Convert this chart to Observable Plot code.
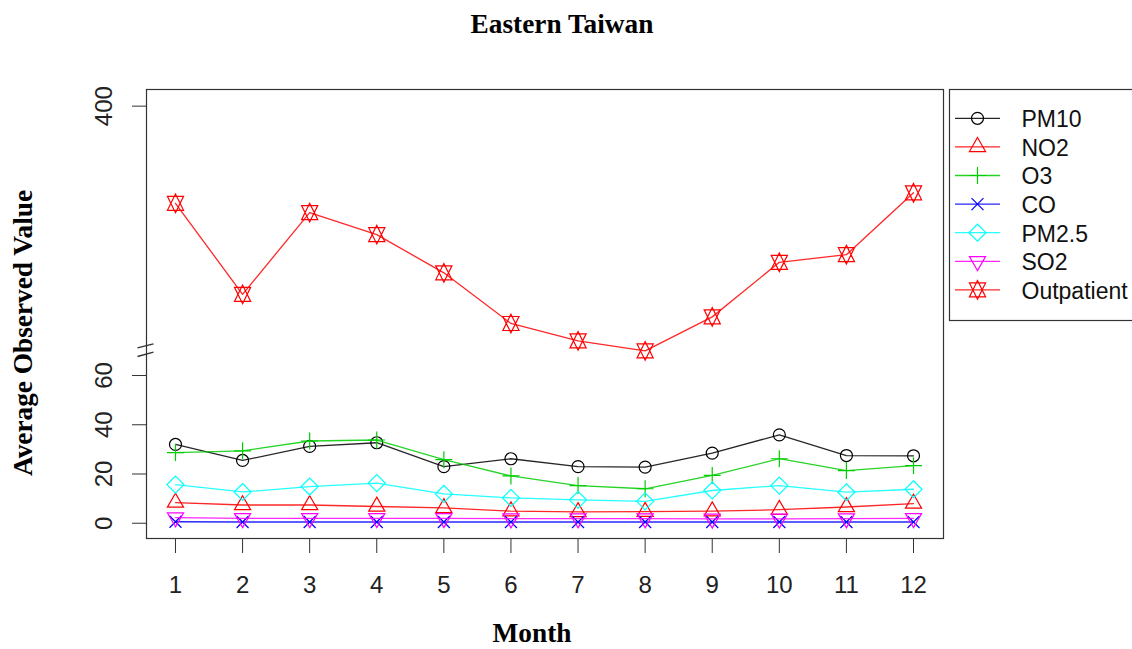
<!DOCTYPE html>
<html><head><meta charset="utf-8">
<script src="https://cdn.jsdelivr.net/npm/d3@7"></script>
<script src="https://cdn.jsdelivr.net/npm/@observablehq/plot@0.6"></script>
<style>
body{margin:0;background:#fff;}
#wrap{position:relative;width:1132px;height:649px;overflow:hidden;background:#fff;}
#wrap svg{position:absolute;left:0;top:0;}
.lab{position:absolute;font-family:"Liberation Serif","Times New Roman",serif;font-weight:bold;font-size:27.3px;white-space:nowrap;color:#000;line-height:1;}
</style></head><body>
<div id="wrap"></div>
<script>
// ---- data ----
const months = [1,2,3,4,5,6,7,8,9,10,11,12];
const pm10 = [32.0, 25.5, 31.2, 32.7, 23.0, 26.2, 23.0, 22.8, 28.5, 35.9, 27.5, 27.4];
const no2  = [8.4, 7.4, 7.4, 6.8, 6.2, 4.9, 4.6, 4.7, 4.9, 5.5, 6.6, 8.0];
const o3   = [28.7, 29.4, 33.4, 33.8, 25.8, 19.2, 15.3, 14.0, 19.4, 26.2, 21.4, 23.4];
const co   = [0.6, 0.5, 0.5, 0.5, 0.5, 0.5, 0.5, 0.5, 0.5, 0.5, 0.5, 0.5];
const pm25 = [15.7, 12.7, 14.9, 16.3, 11.9, 10.3, 9.5, 8.9, 13.3, 15.3, 12.6, 13.8];
const so2  = [2.3, 2.0, 2.0, 2.0, 2.0, 1.9, 1.9, 1.9, 1.8, 1.8, 1.9, 2.0];
const outpatient = [360.3, 323.1, 356.5, 347.5, 331.9, 311.2, 304.1, 300.0, 313.9, 336.2, 339.3, 364.6];
const seriesNames  = ["PM10","NO2","O3","CO","PM2.5","SO2","Outpatient"];
const seriesColors = ["#000000","#FF0000","#00CD00","#0000FF","#00FFFF","#FF00FF","#FF0000"];
const seriesValues = [pm10, no2, o3, co, pm25, so2, outpatient];
const yTicks = [0, 20, 40, 60, 400];
const yGap = [70, 300];
const titleText = "Eastern Taiwan";
const xTitle = "Month";
const yTitle = "Average Observed Value";

// ---- R-style point symbols ----
const TRC0 = Math.sqrt(4*Math.PI/(3*Math.sqrt(3))), TRC1 = TRC0*Math.sqrt(3)/2, TRC2 = TRC0/2;
const S = size => Math.sqrt(size/Math.PI);
const symbols = [
  {draw(c,z){const s=S(z); c.moveTo(s,0); c.arc(0,0,s,0,2*Math.PI);}},
  {draw(c,z){const s=S(z); c.moveTo(0,-TRC0*s); c.lineTo(TRC1*s,TRC2*s); c.lineTo(-TRC1*s,TRC2*s); c.closePath();}},
  {draw(c,z){const s=S(z)*Math.SQRT2; c.moveTo(-s,0); c.lineTo(s,0); c.moveTo(0,-s); c.lineTo(0,s);}},
  {draw(c,z){const s=S(z); c.moveTo(-s,-s); c.lineTo(s,s); c.moveTo(-s,s); c.lineTo(s,-s);}},
  {draw(c,z){const s=S(z)*Math.SQRT2; c.moveTo(0,-s); c.lineTo(s,0); c.lineTo(0,s); c.lineTo(-s,0); c.closePath();}},
  {draw(c,z){const s=S(z); c.moveTo(0,TRC0*s); c.lineTo(TRC1*s,-TRC2*s); c.lineTo(-TRC1*s,-TRC2*s); c.closePath();}},
  {draw(c,z){const s=S(z); const r=TRC0*s, yc=0.5*(TRC2*s+r), xc=TRC1*s;
    c.moveTo(0,-r); c.lineTo(xc,yc); c.lineTo(-xc,yc); c.closePath();
    c.moveTo(0,r); c.lineTo(xc,-yc); c.lineTo(-xc,-yc); c.closePath();}}
];
const R = 6;

// ---- layout ----
const W = 1132, H = 649;
const fx0 = 146, fx1 = 943, fy0 = 89, fy1 = 538;
const xDomain = [0.568, 12.447];
const yDomain = [-6.2, yGap[0], yGap[1], 406.8];
const yBreakPx = 350.4;
const yRange = [fy1, yBreakPx, yBreakPx, fy0];

// break marks ("//") expressed in data units
const xPerPx = (xDomain[1]-xDomain[0])/(fx1-fx0);
const lowPerPx = (yGap[0]-yDomain[0])/(fy1-yBreakPx);
const upPerPx = (yDomain[3]-yGap[1])/(yBreakPx-fy0);
const breakLinks = [
  {x1: xDomain[0]-9*xPerPx, y1: yGap[1]+3*upPerPx, x2: xDomain[0]+7*xPerPx, y2: yGap[1]+7*upPerPx},
  {x1: xDomain[0]-9*xPerPx, y1: yGap[0]-5.6*lowPerPx, x2: xDomain[0]+7*xPerPx, y2: yGap[0]-1.3*lowPerPx}
];

const marks = [
  Plot.frame({stroke: "#333", strokeWidth: 1.2}),
  Plot.axisX({ticks: months, tickSize: 15, tickPadding: 22, tickFormat: d => String(d), label: null, stroke: "#333", fontSize: 24}),
  Plot.axisY({ticks: yTicks, tickSize: 14, tickFormat: () => "", label: null, stroke: "#333"}),
  Plot.text(yTicks, {y: d => d, text: d => String(d), frameAnchor: "left", dx: -42, rotate: -90, textAnchor: "middle", lineAnchor: "middle", fontSize: 24, fill: "#222"}),
  Plot.link(breakLinks, {x1: "x1", y1: "y1", x2: "x2", y2: "y2", stroke: "#333", strokeWidth: 1.3}),
];
seriesValues.forEach((vals, i) => {
  marks.push(Plot.line(months, {x: d => d, y: (d, j) => vals[j], stroke: seriesColors[i], strokeWidth: 1.3, strokeOpacity: 0.85}));
  marks.push(Plot.dot(months, {x: d => d, y: (d, j) => vals[j], symbol: symbols[i], r: R, stroke: seriesColors[i], fill: "none", strokeWidth: 1.2}));
});

const chart = Plot.plot({
  width: W, height: H,
  marginLeft: fx0, marginRight: W - fx1, marginTop: fy0, marginBottom: H - fy1,
  style: {fontFamily: '"Liberation Sans", Arial, sans-serif', fontSize: "24px", color: "#222", background: "transparent"},
  x: {type: "linear", domain: xDomain},
  y: {type: "linear", domain: yDomain, range: yRange},
  marks
});
const wrap = document.getElementById("wrap");
wrap.appendChild(chart);

// ---- titles ----
function addLabel(text, left, top, rotate) {
  const d = document.createElement("div");
  d.className = "lab";
  d.textContent = text;
  d.style.left = left + "px";
  d.style.top = top + "px";
  d.style.transform = "translate(-50%,-50%)" + (rotate ? " rotate(" + rotate + "deg)" : "");
  wrap.appendChild(d);
}
addLabel(titleText, 562, 25);
addLabel(xTitle, 532, 634);
addLabel(yTitle, 24, 333, -90);

// ---- legend ----
const leg = d3.select(wrap).append("svg").attr("width", W).attr("height", H).style("pointer-events", "none");
leg.append("rect").attr("x", 949.5).attr("y", 89.5).attr("width", 220).attr("height", 231).attr("fill", "#fff").attr("stroke", "#333").attr("stroke-width", 1.2);
const rowY0 = 118.3, rowStep = 28.6;
seriesNames.forEach((name, i) => {
  const y = rowY0 + i*rowStep;
  const g = leg.append("g");
  g.append("line").attr("x1", 955).attr("x2", 1000).attr("y1", y).attr("y2", y).attr("stroke", seriesColors[i]).attr("stroke-width", 1.3).attr("stroke-opacity", 0.85);
  const p = d3.path();
  symbols[i].draw(p, R*R*Math.PI);
  g.append("path").attr("d", p.toString()).attr("transform", `translate(977.5,${y})`).attr("fill", "none").attr("stroke", seriesColors[i]).attr("stroke-width", 1.2);
  g.append("text").attr("x", 1021.5).attr("y", y + 8.8).attr("font-family", '"Liberation Sans", Arial, sans-serif').attr("font-size", 23).attr("fill", "#111").text(name);
});
</script>
</body></html>
